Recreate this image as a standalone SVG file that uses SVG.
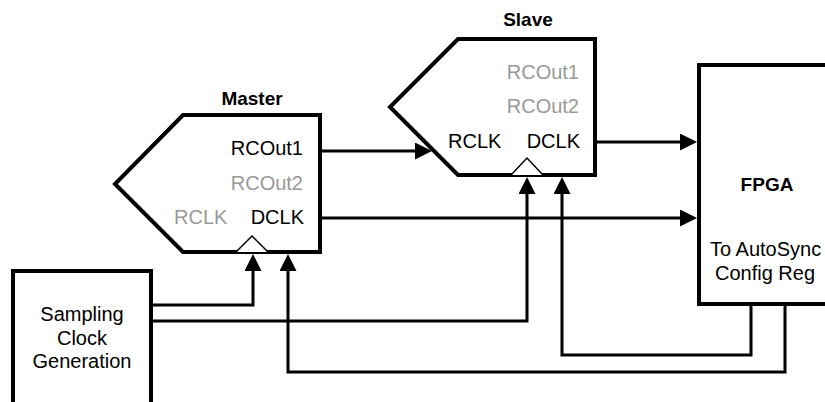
<svg xmlns="http://www.w3.org/2000/svg" width="825" height="402" viewBox="0 0 825 402">
<style>
.box{fill:#fff;stroke:#000;stroke-width:4;stroke-linejoin:miter}
.clk{fill:#fff;stroke:#000;stroke-width:1.5}
.t{font-family:"Liberation Sans",Arial,sans-serif;font-size:20px;fill:#000}
.b{font-weight:bold;font-size:19px}
.g{fill:#999}
.e{text-anchor:end}
.m{text-anchor:middle}
.w{fill:none;stroke:#000;stroke-width:3;marker-end:url(#ah)}
</style>
<defs>
<marker id="ah" markerUnits="userSpaceOnUse" markerWidth="17" markerHeight="17" refX="12" refY="8.5" orient="auto">
<path d="M0,0 L17,8.5 L0,17 z" fill="#000"/>
</marker>
</defs>
<g id="sampling">
<rect class="box" x="13" y="271" width="138" height="200"/>
<text class="t m" x="82" y="321">Sampling</text>
<text class="t m" x="82" y="345">Clock</text>
<text class="t m" x="82" y="368">Generation</text>
</g>
<g id="fpga">
<rect class="box" x="699" y="65" width="200" height="239"/>
<text class="t b m" x="767" y="191">FPGA</text>
<text class="t" x="710" y="256">To AutoSync</text>
<text class="t m" x="765" y="280">Config Reg</text>
</g>
<g id="master">
<text class="t b m" x="252" y="105">Master</text>
<polygon class="box" points="183,115 320,115 320,252 183,252 115,184"/>
<polyline class="clk" points="236,252 252,236 268,252"/>
<text class="t e" x="303" y="155">RCOut1</text>
<text class="t e g" x="303" y="190">RCOut2</text>
<text class="t e" x="304" y="224">DCLK</text>
<text class="t g" x="174" y="224">RCLK</text>
</g>
<g id="slave">
<text class="t b m" x="528" y="26">Slave</text>
<polygon class="box" points="458,39 595,39 595,175 458,175 390,107"/>
<polyline class="clk" points="511,175 527,158 543,175"/>
<text class="t e g" x="579" y="79">RCOut1</text>
<text class="t e g" x="579" y="113">RCOut2</text>
<text class="t e" x="580" y="148">DCLK</text>
<text class="t" x="448" y="148">RCLK</text>
</g>
<g id="connectors">
<path class="w" d="M322,151 H427"/>
<path class="w" d="M322,218 H692"/>
<path class="w" d="M597,142 H692"/>
<path class="w" d="M153,305 H253 V259"/>
<path class="w" d="M153,321 H527 V182"/>
<path class="w" d="M751,306 V355 H562 V182"/>
<path class="w" d="M785,306 V372 H288 V259"/>
</g>
</svg>
